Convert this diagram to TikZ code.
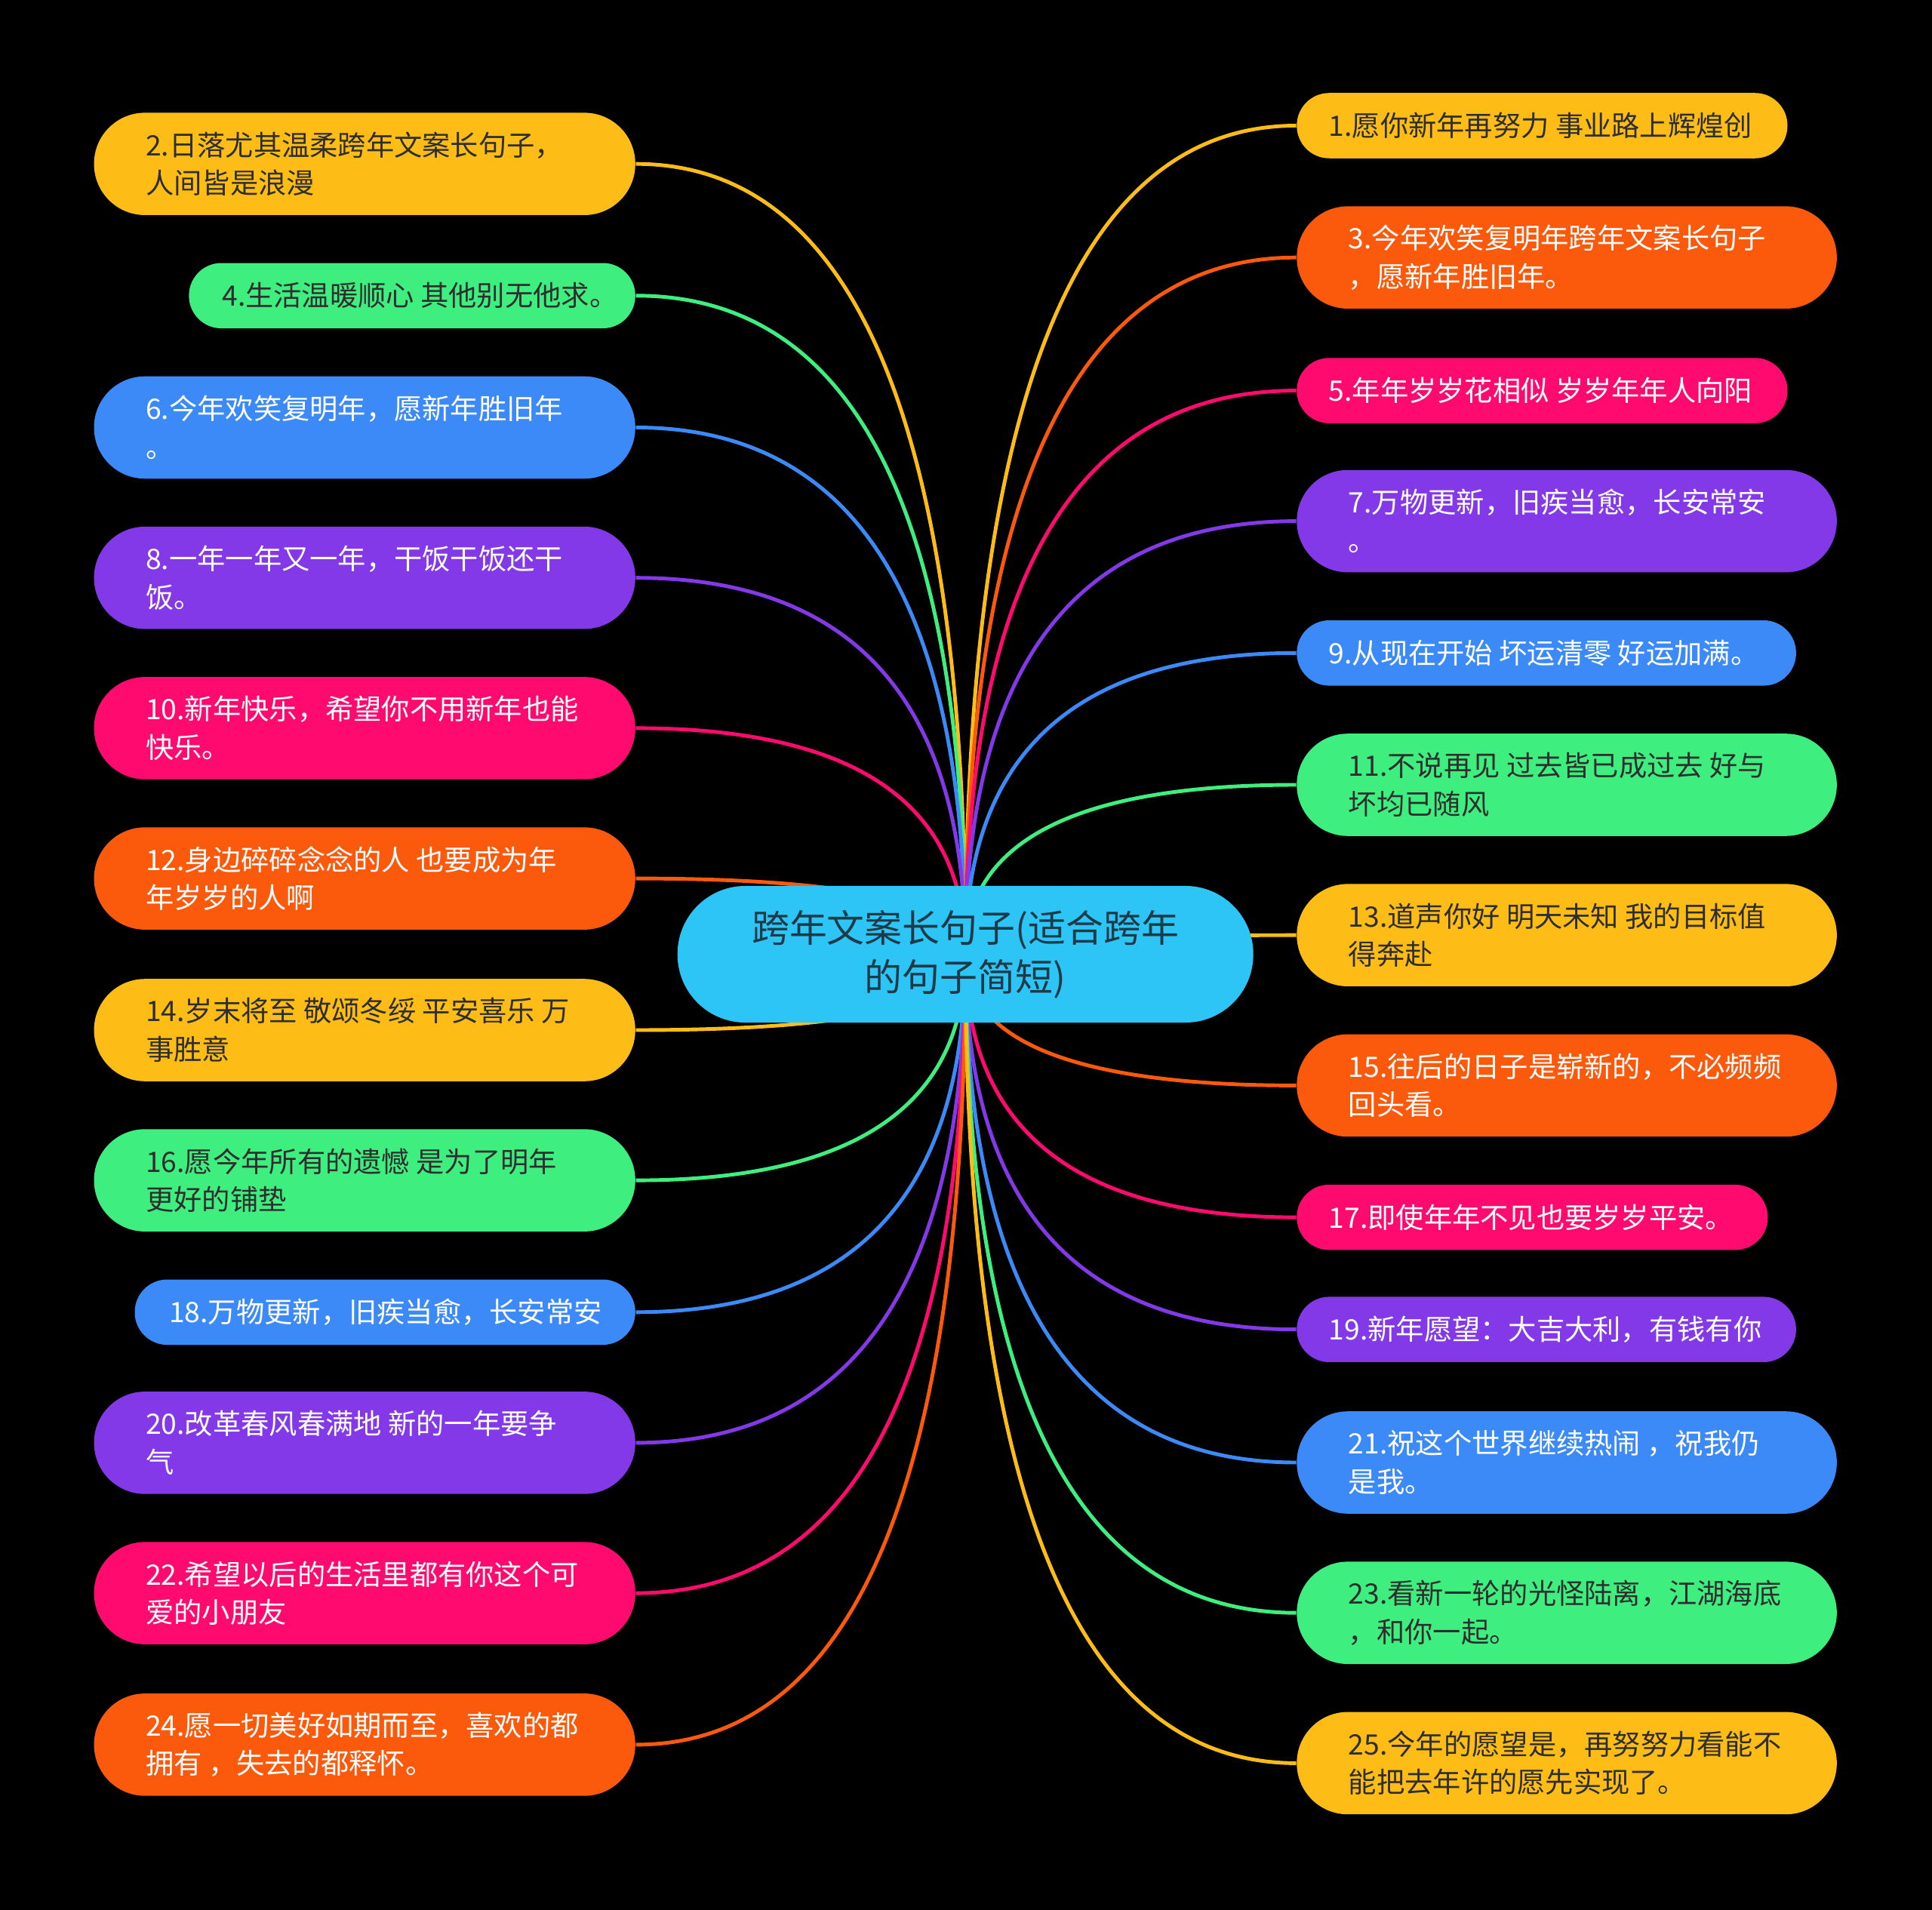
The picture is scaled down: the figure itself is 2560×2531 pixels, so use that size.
\documentclass[tikz,border=0pt]{standalone}
\usepackage{fontspec}
\newfontfamily\cjk{Noto Sans CJK SC}
\usetikzlibrary{calc}
\definecolor{cY}{HTML}{FDBD16}
\definecolor{cO}{HTML}{FB590B}
\definecolor{cP}{HTML}{FF0A6E}
\definecolor{cV}{HTML}{8439E8}
\definecolor{cB}{HTML}{3C8AF8}
\definecolor{cG}{HTML}{3EEF80}
\definecolor{cC}{HTML}{2DC5F5}
\definecolor{cD}{HTML}{2E2E2E}
\definecolor{cCT}{HTML}{1E3A48}
\pgfdeclarelayer{bg}
\pgfsetlayers{bg,main}
\tikzset{
  pillA/.style={rectangle, rounded corners=0.675cm, minimum height=1.355cm, inner sep=0pt},
  pillB/.style={rectangle, rounded corners=0.43cm, minimum height=0.865cm, inner sep=0pt},
  txt/.style={inner sep=0pt, align=left, anchor=west, font=\cjk\fontsize{10.6pt}{14.4pt}\selectfont},
  lnk/.style={line width=1.4pt},
}
\newcommand\mmlink[3]{\draw[lnk,#2] (ctr.center) .. controls ($(ctr.center)!0.6667!(ctr.center |- #1.#3)$) and ($(#1.#3)!0.6667!(ctr.center |- #1.#3)$) .. (#1.#3);}
\begin{document}
\begin{tikzpicture}[x=0.01cm,y=-0.01cm]
\begin{pgfonlayer}{bg}
\fill[black] (0,0) rectangle (2560,2531);
\end{pgfonlayer}
\useasboundingbox (0,0) rectangle (2560,2531);
% center
\node[rectangle, rounded corners=0.9cm, minimum width=7.625cm, minimum height=1.81cm, fill=cC, text=cCT, align=center, font=\cjk\fontsize{14.2pt}{18.5pt}\selectfont] (ctr) at (1279.2,1264.5) {跨年文案长句子(适合跨年\\的句子简短)};
% left side
\node[pillA, fill=cY, minimum width=7.168cm, anchor=east] (n2) at (842.5,217.2) {};
\node[txt, text=cD] (t2) at ($(n2.west)+(68.6,0)$) {2.日落尤其温柔跨年文案长句子，\\人间皆是浪漫};
\node[pillB, fill=cG, minimum width=5.911cm, anchor=east] (n4) at (842.5,391.8) {};
\node[txt, text=cD] (t4) at ($(n4.west)+(44,0)$) {4.生活温暖顺心 其他别无他求。};
\node[pillA, fill=cB, minimum width=7.168cm, anchor=east] (n6) at (842.5,566.5) {};
\node[txt, text=white] (t6) at ($(n6.west)+(68.6,0)$) {6.今年欢笑复明年，愿新年胜旧年\\。};
\node[pillA, fill=cV, minimum width=7.168cm, anchor=east] (n8) at (842.5,765.7) {};
\node[txt, text=white] (t8) at ($(n8.west)+(68.6,0)$) {8.一年一年又一年，干饭干饭还干\\饭。};
\node[pillA, fill=cP, minimum width=7.168cm, anchor=east] (n10) at (842.5,964.9) {};
\node[txt, text=white] (t10) at ($(n10.west)+(68.6,0)$) {10.新年快乐，希望你不用新年也能\\快乐。};
\node[pillA, fill=cO, minimum width=7.168cm, anchor=east] (n12) at (842.5,1164.1) {};
\node[txt, text=white] (t12) at ($(n12.west)+(68.6,0)$) {12.身边碎碎念念的人 也要成为年\\年岁岁的人啊};
\node[pillA, fill=cY, minimum width=7.168cm, anchor=east] (n14) at (842.5,1365) {};
\node[txt, text=cD] (t14) at ($(n14.west)+(68.6,0)$) {14.岁末将至 敬颂冬绥 平安喜乐 万\\事胜意};
\node[pillA, fill=cG, minimum width=7.168cm, anchor=east] (n16) at (842.5,1564.1) {};
\node[txt, text=cD] (t16) at ($(n16.west)+(68.6,0)$) {16.愿今年所有的遗憾 是为了明年\\更好的铺垫};
\node[pillB, fill=cB, minimum width=6.629cm, anchor=east] (n18) at (842.5,1738.8) {};
\node[txt, text=white] (t18) at ($(n18.west)+(45.7,0)$) {18.万物更新，旧疾当愈，长安常安};
\node[pillA, fill=cV, minimum width=7.168cm, anchor=east] (n20) at (842.5,1911.9) {};
\node[txt, text=white] (t20) at ($(n20.west)+(68.6,0)$) {20.改革春风春满地 新的一年要争\\气};
\node[pillA, fill=cP, minimum width=7.168cm, anchor=east] (n22) at (842.5,2111.1) {};
\node[txt, text=white] (t22) at ($(n22.west)+(68.6,0)$) {22.希望以后的生活里都有你这个可\\爱的小朋友};
\node[pillA, fill=cO, minimum width=7.168cm, anchor=east] (n24) at (842.5,2311.9) {};
\node[txt, text=white] (t24) at ($(n24.west)+(68.6,0)$) {24.愿一切美好如期而至，喜欢的都\\拥有 ，失去的都释怀。};
% right side
\node[pillB, fill=cY, minimum width=6.498cm, anchor=west] (n1) at (1717.6,166.5) {};
\node[txt, text=cD] (t1) at ($(n1.west)+(42.4,0)$) {1.愿你新年再努力 事业路上辉煌创};
\node[pillA, fill=cO, minimum width=7.151cm, anchor=west] (n3) at (1717.6,341.2) {};
\node[txt, text=white] (t3) at ($(n3.west)+(68.6,0)$) {3.今年欢笑复明年跨年文案长句子\\，愿新年胜旧年。};
\node[pillB, fill=cP, minimum width=6.498cm, anchor=west] (n5) at (1717.6,517.6) {};
\node[txt, text=white] (t5) at ($(n5.west)+(42.4,0)$) {5.年年岁岁花相似 岁岁年年人向阳};
\node[pillA, fill=cV, minimum width=7.151cm, anchor=west] (n7) at (1717.6,690.6) {};
\node[txt, text=white] (t7) at ($(n7.west)+(68.6,0)$) {7.万物更新，旧疾当愈，长安常安\\。};
\node[pillB, fill=cB, minimum width=6.612cm, anchor=west] (n9) at (1717.6,865.3) {};
\node[txt, text=white] (t9) at ($(n9.west)+(42.4,0)$) {9.从现在开始 坏运清零 好运加满。};
\node[pillA, fill=cG, minimum width=7.151cm, anchor=west] (n11) at (1717.6,1040) {};
\node[txt, text=cD] (t11) at ($(n11.west)+(68.6,0)$) {11.不说再见 过去皆已成过去 好与\\坏均已随风};
\node[pillA, fill=cY, minimum width=7.151cm, anchor=west] (n13) at (1717.6,1239.2) {};
\node[txt, text=cD] (t13) at ($(n13.west)+(68.6,0)$) {13.道声你好 明天未知 我的目标值\\得奔赴};
\node[pillA, fill=cO, minimum width=7.151cm, anchor=west] (n15) at (1717.6,1438.4) {};
\node[txt, text=white] (t15) at ($(n15.west)+(68.6,0)$) {15.往后的日子是崭新的，不必频频\\回头看。};
\node[pillB, fill=cP, minimum width=6.237cm, anchor=west] (n17) at (1717.6,1613.1) {};
\node[txt, text=white] (t17) at ($(n17.west)+(42.4,0)$) {17.即使年年不见也要岁岁平安。};
\node[pillB, fill=cV, minimum width=6.612cm, anchor=west] (n19) at (1717.6,1761.7) {};
\node[txt, text=white] (t19) at ($(n19.west)+(42.4,0)$) {19.新年愿望：大吉大利，有钱有你};
\node[pillA, fill=cB, minimum width=7.151cm, anchor=west] (n21) at (1717.6,1938) {};
\node[txt, text=white] (t21) at ($(n21.west)+(68.6,0)$) {21.祝这个世界继续热闹 ，祝我仍\\是我。};
\node[pillA, fill=cG, minimum width=7.151cm, anchor=west] (n23) at (1717.6,2137.2) {};
\node[txt, text=cD] (t23) at ($(n23.west)+(68.6,0)$) {23.看新一轮的光怪陆离，江湖海底\\，和你一起。};
\node[pillA, fill=cY, minimum width=7.151cm, anchor=west] (n25) at (1717.6,2336.4) {};
\node[txt, text=cD] (t25) at ($(n25.west)+(68.6,0)$) {25.今年的愿望是，再努努力看能不\\能把去年许的愿先实现了。};
% connectors
\begin{pgfonlayer}{bg}
\mmlink{n2}{cY}{east}
\mmlink{n4}{cG}{east}
\mmlink{n6}{cB}{east}
\mmlink{n8}{cV}{east}
\mmlink{n10}{cP}{east}
\mmlink{n12}{cO}{east}
\mmlink{n14}{cY}{east}
\mmlink{n16}{cG}{east}
\mmlink{n18}{cB}{east}
\mmlink{n20}{cV}{east}
\mmlink{n22}{cP}{east}
\mmlink{n24}{cO}{east}
\mmlink{n1}{cY}{west}
\mmlink{n3}{cO}{west}
\mmlink{n5}{cP}{west}
\mmlink{n7}{cV}{west}
\mmlink{n9}{cB}{west}
\mmlink{n11}{cG}{west}
\mmlink{n13}{cY}{west}
\mmlink{n15}{cO}{west}
\mmlink{n17}{cP}{west}
\mmlink{n19}{cV}{west}
\mmlink{n21}{cB}{west}
\mmlink{n23}{cG}{west}
\mmlink{n25}{cY}{west}
\end{pgfonlayer}
\end{tikzpicture}
\end{document}
